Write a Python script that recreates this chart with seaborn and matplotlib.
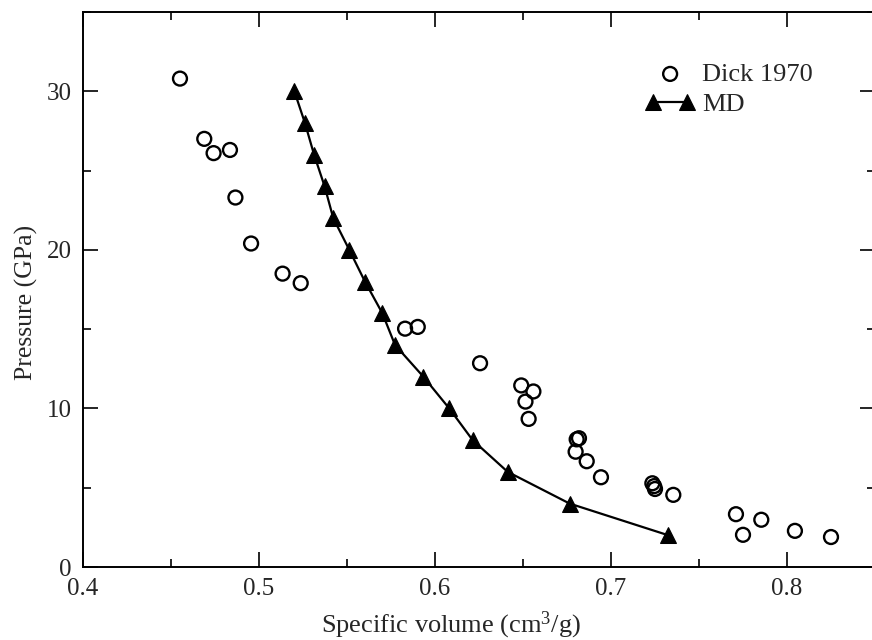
import matplotlib
matplotlib.use("Agg")
import matplotlib.pyplot as plt
import seaborn as sns
import pandas as pd
from matplotlib.ticker import MultipleLocator

# Shock Hugoniot data of Dick (1970)
dick_volume = [0.4551, 0.4689, 0.4742, 0.4835, 0.4866, 0.4955, 0.5134, 0.5237,
               0.5830, 0.5902, 0.6256, 0.6490, 0.6559, 0.6514, 0.6532,
               0.6805, 0.6818, 0.6799, 0.6862, 0.6943,
               0.7235, 0.7245, 0.7250, 0.7354, 0.7710, 0.7750, 0.7854,
               0.8045, 0.8250]
dick_pressure = [30.8, 27.0, 26.1, 26.3, 23.3, 20.4, 18.5, 17.9,
                 15.03, 15.14, 12.85, 11.45, 11.07, 10.43, 9.34,
                 8.05, 8.12, 7.27, 6.67, 5.66,
                 5.28, 5.10, 4.92, 4.55, 3.33, 2.03, 2.98,
                 2.28, 1.89]

# Molecular dynamics Hugoniot
md_volume = [0.5201, 0.5261, 0.5313, 0.5373, 0.5422, 0.5513, 0.5602, 0.5701,
             0.5773, 0.5934, 0.6081, 0.6214, 0.6413, 0.6765, 0.7326]
md_pressure = [30, 28, 26, 24, 22, 20, 18, 16, 14, 12, 10, 8, 6, 4, 2]

dick = pd.DataFrame({"v": dick_volume, "p": dick_pressure})
md = pd.DataFrame({"v": md_volume, "p": md_pressure})

sns.set_theme(style="ticks")
plt.rcParams["font.family"] = ["Liberation Serif", "DejaVu Serif"]
plt.rcParams["mathtext.fontset"] = "custom"
plt.rcParams["mathtext.rm"] = "Liberation Serif"
plt.rcParams["mathtext.it"] = "Liberation Serif:italic"

fig = plt.figure(figsize=(8.72, 6.40), dpi=100)
ax = fig.add_axes([83 / 872, 73 / 640, 792 / 872, 555 / 640])

sns.scatterplot(data=dick, x="v", y="p", ax=ax, marker="o", s=100,
                facecolor="none", edgecolor="black", linewidth=1.7,
                label="Dick 1970", zorder=3)
ax.collections[-1].set_facecolor("none")
ax.collections[-1].set_edgecolor("black")

sns.lineplot(data=md, x="v", y="p", ax=ax, color="black", linewidth=1.6,
             marker="^", markersize=12, markeredgecolor="black",
             label="MD", zorder=4)

ax.set_xlim(0.4, 0.85)
ax.set_ylim(0, 35)
ax.xaxis.set_major_locator(MultipleLocator(0.1))
ax.xaxis.set_minor_locator(MultipleLocator(0.05))
ax.yaxis.set_major_locator(MultipleLocator(10))
ax.yaxis.set_minor_locator(MultipleLocator(5))
ax.set_xticks([0.4, 0.5, 0.6, 0.7, 0.8])
ax.set_xticklabels(["0.4", "0.5", "0.6", "0.7", "0.8"])

ax.tick_params(which="both", direction="in", top=True, right=True,
               color="black", width=1.2, labelsize=18, pad=8)
ax.tick_params(which="major", length=11)
ax.tick_params(which="minor", length=6)
for sp in ax.spines.values():
    sp.set_linewidth(1.4)
    sp.set_color("black")

ax.set_xlabel(r"Specific volume (cm$^\mathrm{3}$/g)", fontsize=19)
ax.set_ylabel("Pressure (GPa)", fontsize=18.5)
ax.xaxis.set_label_coords(0.465, -0.077)
ax.yaxis.set_label_coords(-0.057, 0.476)

ax.legend(loc="upper left", bbox_to_anchor=(0.693, 0.933), frameon=False,
          fontsize=19, scatterpoints=1, numpoints=2, handlelength=1.9,
          handletextpad=0.25, borderpad=0, labelspacing=0.25)

fig.savefig("out.png", dpi=100)
